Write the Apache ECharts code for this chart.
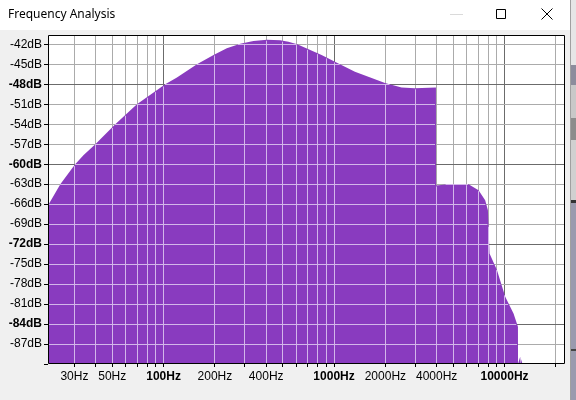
<!DOCTYPE html>
<html>
<head>
<meta charset="utf-8">
<title>Frequency Analysis</title>
<script src="https://cdn.jsdelivr.net/npm/echarts@6/dist/echarts.min.js"></script>
<style>
  html, body { margin: 0; padding: 0; background: #f0f0f0; }
  #chart { width: 576px; height: 400px; }
</style>
</head>
<body>
<div id="chart"></div>
<script>
  // spectrum (Hz / dB)
  const freqs = [21.2, 24.8, 30.3, 34.0, 39.8, 52.1, 69.8, 102.3, 119.8, 157, 196.5, 235, 281.8, 337, 404, 483, 540, 608,
    845, 1012, 1326, 1990, 2489, 2980, 3960, 3966, 4696, 6150, 7040, 7700, 7990, 8166, 9024, 10095, 11292, 11986, 12000,
    12250, 12350, 12450, 12600, 12700, 22600];
  const levels = [-66.0, -63.0, -60.0, -58.6, -57.0, -54.0, -51.0, -48.0, -47.0, -45.0, -43.6, -42.6, -41.9, -41.5, -41.3, -41.4, -41.6, -42.0,
    -43.6, -44.6, -46.1, -47.8, -48.5, -48.6, -48.5, -63.2, -63.0, -63.0, -63.9, -65.4, -66.9, -73.4, -75.9, -79.9, -82.4, -84.4, -90,
    -90, -88.9, -90, -89.3, -90, -90];

  // grid and tick labels
  const gridFreqs = [30, 40, 50, 60, 70, 80, 90, 100, 200, 300, 400, 500, 600, 700, 800, 900,
    1000, 2000, 3000, 4000, 5000, 6000, 7000, 8000, 9000, 10000, 20000];
  const majorFreqs = [100, 1000, 10000];
  const freqLabels = [30, 50, 100, 200, 400, 1000, 2000, 4000, 10000];
  const dbLines = [-87, -84, -81, -78, -75, -72, -69, -66, -63, -60, -57, -54, -51, -48, -45, -42];
  const majorDb = [-84, -72, -60, -48];

  const FILL = '#893bbf';
  const MINOR = '#ababab';
  const MAJOR = '#6b6b6b';
  const LIGHT = '#d3b6ea';
  const FONT = '"Liberation Sans", Arial, sans-serif';

  const snap = v => Math.round(v - 0.5) + 0.5;

  // gray grid, bottom ticks and Hz labels (under the spectrum)
  function backGrid(params, api) {
    const cs = params.coordSys;
    const top = cs.y, bottom = cs.y + cs.height;
    const children = [];
    gridFreqs.forEach(f => {
      const x = snap(api.coord([f, -60])[0]);
      children.push({
        type: 'line', shape: { x1: x, y1: top, x2: x, y2: bottom },
        style: { stroke: majorFreqs.includes(f) ? MAJOR : MINOR, lineWidth: 1 }
      });
      children.push({
        type: 'line', shape: { x1: x, y1: bottom, x2: x, y2: bottom + 3 },
        style: { stroke: '#000', lineWidth: 1 }
      });
    });
    dbLines.forEach(d => {
      const y = snap(api.coord([1000, d])[1]);
      children.push({
        type: 'line', shape: { x1: cs.x, y1: y, x2: cs.x + cs.width, y2: y },
        style: { stroke: majorDb.includes(d) ? MAJOR : MINOR, lineWidth: 1 }
      });
    });
    freqLabels.forEach(f => {
      const x = api.coord([f, -60])[0];
      children.push({
        type: 'text', x: x, y: bottom + 13,
        style: {
          text: f + 'Hz', fill: '#000', align: 'center', verticalAlign: 'middle',
          font: (majorFreqs.includes(f) ? 'bold ' : '') + '12px ' + FONT
        }
      });
    });
    return { type: 'group', children };
  }

  // light grid drawn only inside the filled spectrum, plus the black frame
  function frontGrid(params, api) {
    const cs = params.coordSys;
    const bottom = cs.y + cs.height;
    const pts = freqs.map((f, i) => api.coord([f, levels[i]]));
    const children = [];

    gridFreqs.forEach(f => {
      const x = snap(api.coord([f, -60])[0]);
      let yTop = null;
      for (let i = 0; i < pts.length - 1; i++) {
        const [x0, y0] = pts[i], [x1, y1] = pts[i + 1];
        if (x1 <= x0 || x < x0 || x > x1) continue;
        const y = y0 + (x - x0) / (x1 - x0) * (y1 - y0);
        if (yTop === null || y < yTop) yTop = y;
      }
      if (yTop !== null && yTop < bottom - 1) {
        children.push({
          type: 'line', shape: { x1: x, y1: bottom, x2: x, y2: yTop + 1 },
          style: { stroke: LIGHT, lineWidth: 1 }
        });
      }
    });

    dbLines.forEach(d => {
      const y = snap(api.coord([1000, d])[1]);
      const spans = [];
      for (let i = 0; i < pts.length - 1; i++) {
        const [x0, y0] = pts[i], [x1, y1] = pts[i + 1];
        if (x1 <= x0) continue;
        const cross = x0 + (y - y0) / (y1 - y0) * (x1 - x0);
        if (y0 <= y && y1 <= y) spans.push([x0, x1]);
        else if (y0 <= y) spans.push([x0, cross]);
        else if (y1 <= y) spans.push([cross, x1]);
      }
      const merged = [];
      spans.forEach(s => {
        const last = merged[merged.length - 1];
        if (last && s[0] <= last[1] + 0.5) last[1] = Math.max(last[1], s[1]);
        else merged.push([s[0], s[1]]);
      });
      merged.forEach(s => {
        children.push({
          type: 'line', shape: { x1: s[0], y1: y, x2: s[1] - 1, y2: y },
          style: { stroke: LIGHT, lineWidth: 1 }
        });
      });
    });

    children.push({
      type: 'rect',
      shape: { x: cs.x + 0.5, y: cs.y + 0.5, width: cs.width - 1, height: cs.height - 1 },
      style: { fill: 'none', stroke: '#000', lineWidth: 1 }
    });
    return { type: 'group', children };
  }

  const chart = echarts.init(document.getElementById('chart'), null, { renderer: 'canvas' });

  chart.setOption({
    backgroundColor: '#f0f0f0',
    animation: false,
    grid: {
      left: 48, right: 11, top: 35, bottom: 36,
      show: true, backgroundColor: '#fff', borderWidth: 0
    },
    xAxis: {
      type: 'log',
      logBase: 10,
      min: 21,
      max: 22630,
      axisLine: { show: false },
      axisTick: { show: false },
      axisLabel: { show: false },
      splitLine: { show: false }
    },
    yAxis: {
      type: 'value',
      min: -90,
      max: -40.6,
      interval: 3,
      axisLine: { show: false },
      axisTick: { show: true, length: 4, lineStyle: { color: '#000' } },
      splitLine: { show: false },
      axisLabel: {
        showMaxLabel: false,
        margin: 6,
        color: '#000',
        fontSize: 12,
        fontFamily: FONT,
        formatter: v => {
          if (v === -90 || v > -42) return '';
          return majorDb.includes(v) ? '{b|' + v + 'dB}' : v + 'dB';
        },
        rich: { b: { fontWeight: 'bold', fontSize: 12, fontFamily: FONT, color: '#000' } }
      }
    },
    series: [
      {
        type: 'custom',
        z: 1,
        silent: true,
        renderItem: backGrid,
        data: [[1000, -60]]
      },
      {
        type: 'line',
        z: 2,
        showSymbol: false,
        silent: true,
        data: freqs.map((f, i) => [f, levels[i]]),
        lineStyle: { width: 0 },
        areaStyle: { color: FILL, opacity: 1, origin: 'start' }
      },
      {
        type: 'custom',
        z: 3,
        silent: true,
        renderItem: frontGrid,
        data: [[1000, -60]]
      }
    ],
    graphic: [
      // title bar
      { type: 'rect', shape: { x: 0, y: 0, width: 570, height: 30 }, style: { fill: '#fff' } },
      { type: 'text', x: 8, y: 15, style: { text: 'Frequency Analysis', fill: '#000', font: '12px "Noto Sans", sans-serif', verticalAlign: 'middle' } },
      { type: 'line', shape: { x1: 450, y1: 14.5, x2: 463, y2: 14.5 }, style: { stroke: '#dadada', lineWidth: 1 } },
      { type: 'rect', shape: { x: 496.5, y: 9.5, width: 9, height: 9 }, style: { fill: 'none', stroke: '#000', lineWidth: 1 } },
      { type: 'line', shape: { x1: 541.5, y1: 8.5, x2: 552.5, y2: 19.5 }, style: { stroke: '#000', lineWidth: 1 } },
      { type: 'line', shape: { x1: 552.5, y1: 8.5, x2: 541.5, y2: 19.5 }, style: { stroke: '#000', lineWidth: 1 } },
      // window behind, on the right edge
      { type: 'rect', shape: { x: 570, y: 0, width: 6, height: 400 }, style: { fill: '#e6e6e6' } },
      { type: 'line', shape: { x1: 570.5, y1: 0, x2: 570.5, y2: 400 }, style: { stroke: '#a0a0a0', lineWidth: 1 } },
      { type: 'rect', shape: { x: 571, y: 65, width: 5, height: 20 }, style: { fill: '#8c8c9c' } },
      { type: 'rect', shape: { x: 571, y: 85, width: 5, height: 33 }, style: { fill: '#c8c8c8' } },
      { type: 'rect', shape: { x: 571, y: 118, width: 5, height: 22 }, style: { fill: '#8c8c8c' } },
      { type: 'rect', shape: { x: 571, y: 140, width: 5, height: 60 }, style: { fill: '#d0d0d0' } },
      { type: 'rect', shape: { x: 571, y: 200, width: 5, height: 3 }, style: { fill: '#333' } },
      { type: 'rect', shape: { x: 571, y: 203, width: 5, height: 197 }, style: { fill: '#9a9aae' } },
      { type: 'rect', shape: { x: 571, y: 349, width: 5, height: 2 }, style: { fill: '#444' } }
    ]
  });
</script>
</body>
</html>
